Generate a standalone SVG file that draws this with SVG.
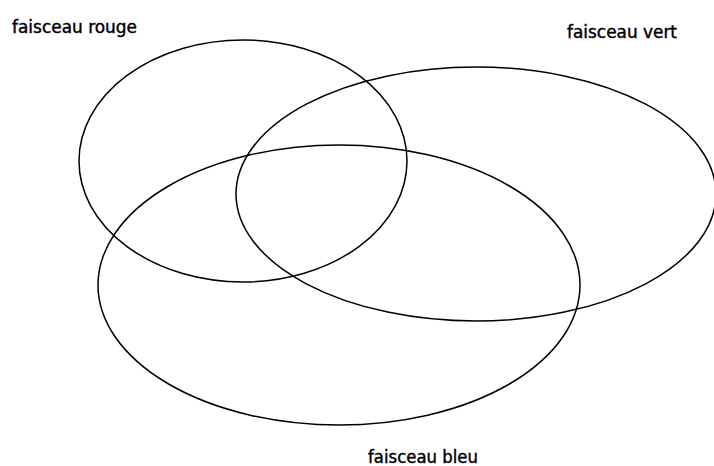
<svg xmlns="http://www.w3.org/2000/svg" width="714" height="466" viewBox="0 0 714 466">
<style>
.e{fill:none;stroke:#000;stroke-width:1.5}
.t{font-family:"DejaVu Sans Condensed","DejaVu Sans",sans-serif;font-size:18px;fill:#000;stroke:#000;stroke-width:0.4}
</style>
<rect width="714" height="466" fill="#fff"/>
<g id="rouge"><ellipse class="e" cx="243" cy="161" rx="164" ry="121"/><text class="t" x="12" y="33" textLength="125" lengthAdjust="spacingAndGlyphs">faisceau rouge</text></g>
<g id="vert"><ellipse class="e" cx="476" cy="194" rx="240" ry="127"/><text class="t" x="567" y="38" textLength="110" lengthAdjust="spacingAndGlyphs">faisceau vert</text></g>
<g id="bleu"><ellipse class="e" cx="339" cy="285" rx="241" ry="140"/><text class="t" x="368" y="463" textLength="110" lengthAdjust="spacingAndGlyphs">faisceau bleu</text></g>
<g id="connectors"/>
</svg>
